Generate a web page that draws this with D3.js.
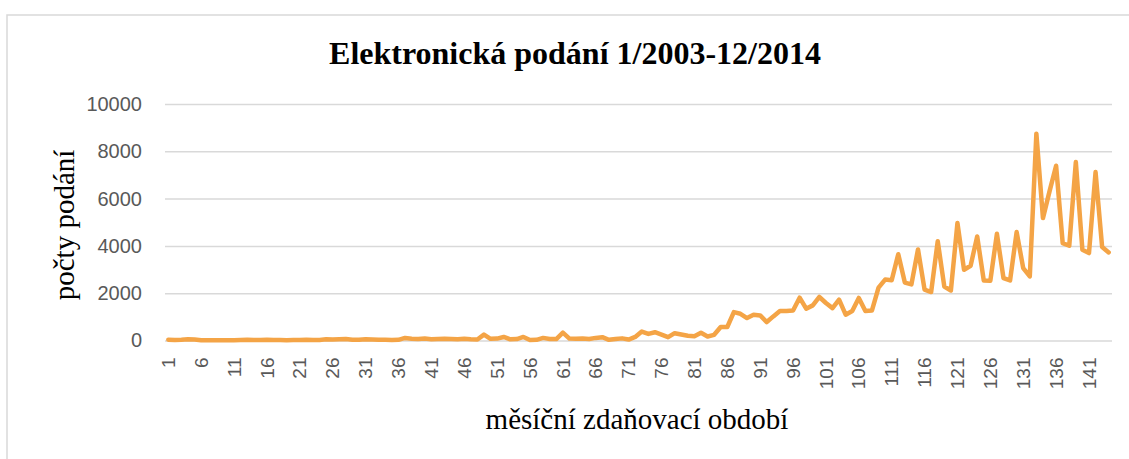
<!DOCTYPE html>
<html>
<head>
<meta charset="utf-8">
<script src="https://cdn.jsdelivr.net/npm/d3@7"></script>
<style>
  body { margin: 0; background: #fff; }
  svg { display: block; }
</style>
</head>
<body>
<svg id="chart" width="1129" height="459"></svg>
<script>
const width = 1129, height = 459

// mesicni obdobi 1..144
const mesice = d3.range(1, 145)

// pocty podani (odhad z obrazku)
const podani = [
  30, 20, 30, 50, 40, 10, 10, 10, 10, 15,
  15, 20, 30, 20, 20, 30, 20, 20, 15, 20,
  20, 30, 20, 25, 50, 40, 50, 60, 30, 30,
  50, 40, 30, 30, 25, 30, 110, 70, 60, 80,
  50, 60, 70, 60, 50, 70, 50, 40, 250, 70,
  80, 150, 50, 60, 150, 20, 30, 110, 60, 60,
  330, 80, 70, 80, 60, 110, 140, 30, 60, 90,
  40, 150, 380, 280, 350, 250, 140, 310, 255, 200,
  180, 325, 170, 240, 570, 570, 1200, 1130, 950, 1090,
  1060, 780, 1020, 1245, 1245, 1270, 1810, 1345, 1485, 1840,
  1585, 1370, 1725, 1090, 1245, 1800, 1245, 1270, 2235, 2575,
  2545, 3650, 2450, 2375, 3850, 2150, 2050, 4200, 2285, 2115,
  4965, 2990, 3160, 4400, 2540, 2525, 4515, 2640, 2540, 4585,
  3060, 2710, 8745, 5175, 6305, 7390, 4120, 4005, 7545, 3835,
  3695, 7120, 3950, 3725
]

const yTicks = [0, 2000, 4000, 6000, 8000, 10000]
const xTicks = mesice.filter(m => (m - 1) % 5 === 0)

const plot = { left: 165, right: 1112, top: 104, bottom: 340.5 }

const svg = d3.select('#chart')

// ramecek grafu
svg.append('rect')
  .attr('x', 7)
  .attr('y', 15)
  .attr('width', 1140)
  .attr('height', 460)
  .attr('fill', '#fff')
  .attr('stroke', '#d9d9d9')
  .attr('stroke-width', 1.5)

// skala x
const xScale = d3.scaleBand()
  .domain(mesice)
  .range([plot.left, plot.right])

// skala y
const yScale = d3.scaleLinear()
  .domain([0, 10000])
  .range([plot.bottom, plot.top])

// mrizka + osa y
const yAxis = d3.axisLeft(yScale)
  .tickValues(yTicks)
  .tickFormat(d3.format('d'))
  .tickSize(-(plot.right - plot.left))
  .tickPadding(23)

svg.append('g')
  .attr('transform', `translate(${plot.left}, 0)`)
  .call(yAxis)
  .call(g => g.select('.domain').remove())
  .call(g => g.selectAll('.tick line').attr('stroke', '#d9d9d9').attr('stroke-width', 1.5))
  .call(g => g.selectAll('.tick text')
    .attr('fill', '#595959')
    .attr('font-family', 'Liberation Sans, Arial, sans-serif')
    .attr('font-size', '20px'))

// osa x
const xAxis = d3.axisBottom(xScale)
  .tickValues(xTicks)
  .tickSize(0)

svg.append('g')
  .attr('transform', `translate(0, ${plot.bottom})`)
  .call(xAxis)
  .call(g => g.select('.domain').remove())
  .call(g => g.selectAll('.tick text')
    .attr('fill', '#595959')
    .attr('font-family', 'Liberation Sans, Arial, sans-serif')
    .attr('font-size', '19px')
    .attr('text-anchor', 'end')
    .attr('dy', '0.35em')
    .attr('transform', 'translate(0, 17) rotate(-90)')
    .attr('x', 0)
    .attr('y', 0))

// cara
const line = d3.line()
  .x((d, i) => xScale(mesice[i]) + xScale.bandwidth() / 2)
  .y(d => yScale(d))

svg.append('path')
  .datum(podani)
  .attr('d', line)
  .attr('fill', 'none')
  .attr('stroke', '#f4a446')
  .attr('stroke-width', 4.5)
  .attr('stroke-linejoin', 'round')
  .attr('stroke-linecap', 'round')

// titulek
svg.append('text')
  .text('Elektronická podání 1/2003-12/2014')
  .attr('x', 575)
  .attr('y', 64)
  .attr('text-anchor', 'middle')
  .attr('font-family', 'Liberation Serif, Times New Roman, serif')
  .attr('font-weight', 'bold')
  .attr('font-size', '32px')
  .attr('fill', '#000')

// popisek osy x
svg.append('text')
  .text('měsíční zdaňovací období')
  .attr('x', 637)
  .attr('y', 429)
  .attr('text-anchor', 'middle')
  .attr('font-family', 'Liberation Serif, Times New Roman, serif')
  .attr('font-size', '29px')
  .attr('fill', '#000')

// popisek osy y
svg.append('text')
  .text('počty podání')
  .attr('transform', 'translate(74, 225) rotate(-90)')
  .attr('text-anchor', 'middle')
  .attr('font-family', 'Liberation Serif, Times New Roman, serif')
  .attr('font-size', '29px')
  .attr('fill', '#000')
</script>
</body>
</html>
